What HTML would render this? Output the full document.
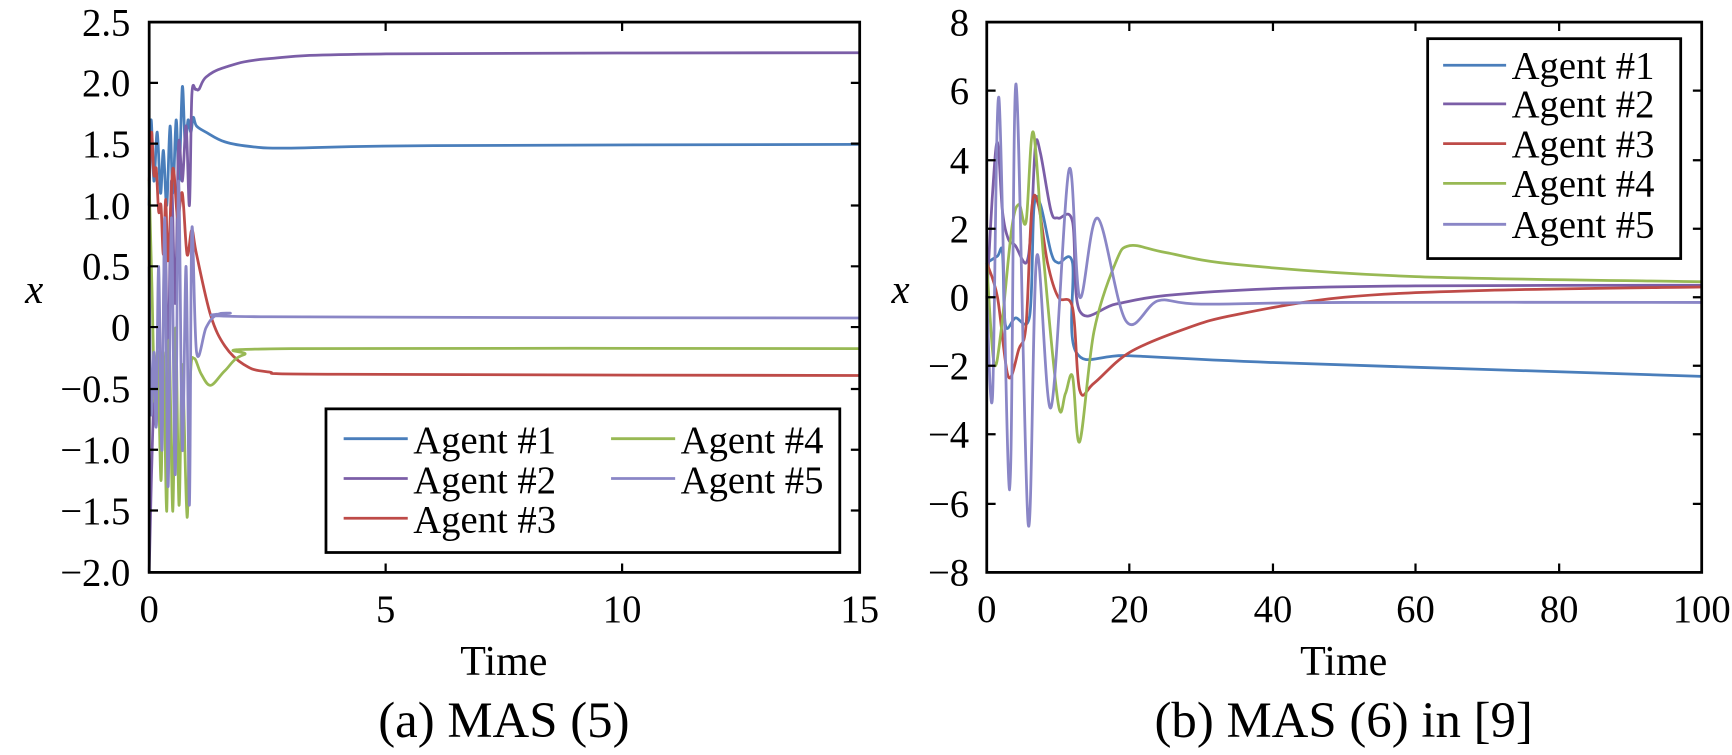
<!DOCTYPE html>
<html><head><meta charset="utf-8"><style>
html,body{margin:0;padding:0;background:#fff;}
svg{display:block;font-family:"Liberation Serif",serif;}
</style></head><body>
<svg id="s" width="1732" height="755" viewBox="0 0 1732 755" xmlns="http://www.w3.org/2000/svg">
<g transform="scale(1.105)">
<g id="curves"></g>
<!-- left axes -->
<rect x="135" y="20" width="643" height="498" fill="none" stroke="#000" stroke-width="2.5"/>
<g stroke="#000" stroke-width="2">
<path d="M349,20v8M563,20v8M349,518v-8M563,518v-8"/>
<path d="M135,75h8M135,130h8M135,186h8M135,241h8M135,296h8M135,352h8M135,407h8M135,462h8"/>
<path d="M778,75h-8M778,130h-8M778,186h-8M778,241h-8M778,296h-8M778,352h-8M778,407h-8M778,462h-8"/>
</g>
<g font-size="35" text-anchor="end">
<text x="118" y="32">2.5</text><text x="118" y="87">2.0</text><text x="118" y="142">1.5</text><text x="118" y="198">1.0</text><text x="118" y="253">0.5</text><text x="118" y="308">0</text><text x="118" y="364">−0.5</text><text x="118" y="419">−1.0</text><text x="118" y="474">−1.5</text><text x="118" y="530">−2.0</text>
</g>
<g font-size="35" text-anchor="middle">
<text x="135" y="563">0</text><text x="349" y="563">5</text><text x="563" y="563">10</text><text x="778" y="563">15</text>
<text x="456" y="611" font-size="38">Time</text>
<text x="456" y="667" font-size="46">(a) MAS (5)</text>
</g>
<text x="31" y="274" font-size="37" font-style="italic" text-anchor="middle">x</text>
<!-- right axes -->
<rect x="893" y="20" width="647" height="498" fill="none" stroke="#000" stroke-width="2.5"/>
<g stroke="#000" stroke-width="2">
<path d="M1022,20v8M1152,20v8M1281,20v8M1411,20v8M1022,518v-8M1152,518v-8M1281,518v-8M1411,518v-8"/>
<path d="M893,82h8M893,145h8M893,207h8M893,269h8M893,331h8M893,393h8M893,456h8"/>
<path d="M1540,82h-8M1540,145h-8M1540,207h-8M1540,269h-8M1540,331h-8M1540,393h-8M1540,456h-8"/>
</g>
<g font-size="35" text-anchor="end">
<text x="877" y="32">8</text><text x="877" y="94">6</text><text x="877" y="157">4</text><text x="877" y="219">2</text><text x="877" y="281">0</text><text x="877" y="343">−2</text><text x="877" y="405">−4</text><text x="877" y="468">−6</text><text x="877" y="530">−8</text>
</g>
<g font-size="35" text-anchor="middle">
<text x="893" y="563">0</text><text x="1022" y="563">20</text><text x="1152" y="563">40</text><text x="1281" y="563">60</text><text x="1411" y="563">80</text><text x="1540" y="563">100</text>
<text x="1216" y="611" font-size="38">Time</text>
<text x="1216" y="667" font-size="46">(b) MAS (6) in [9]</text>
</g>
<text x="815" y="274" font-size="37" font-style="italic" text-anchor="middle">x</text>
<!-- left legend -->
<rect x="295" y="370" width="465" height="130" fill="#fff" stroke="#000" stroke-width="2.5"/>
<g stroke-width="2.5">
<path d="M311,397h58" stroke="#4a7ebb"/><path d="M311,433h58" stroke="#7b5ea7"/><path d="M311,469h58" stroke="#be4b48"/>
<path d="M553,397h58" stroke="#98b954"/><path d="M553,433h58" stroke="#8a86c6"/>
</g>
<g font-size="35">
<text x="374" y="410">Agent #1</text><text x="374" y="446">Agent #2</text><text x="374" y="482">Agent #3</text>
<text x="616" y="410">Agent #4</text><text x="616" y="446">Agent #5</text>
</g>
<!-- right legend -->
<rect x="1292" y="35" width="229" height="199" fill="#fff" stroke="#000" stroke-width="2.5"/>
<g stroke-width="2.5">
<path d="M1306,59h57" stroke="#4a7ebb"/><path d="M1306,94h57" stroke="#7b5ea7"/><path d="M1306,130h57" stroke="#be4b48"/><path d="M1306,166h57" stroke="#98b954"/><path d="M1306,203h57" stroke="#8a86c6"/>
</g>
<g font-size="35">
<text x="1368" y="71">Agent #1</text><text x="1368" y="106">Agent #2</text><text x="1368" y="142">Agent #3</text><text x="1368" y="178">Agent #4</text><text x="1368" y="215">Agent #5</text>
</g>
</g>
</svg>
<script>
var C={b:"#4a7ebb",p:"#7b5ea7",r:"#be4b48",g:"#98b954",l:"#8a86c6"};
function path(pts,fx,fy){var P=pts.map(function(a){return [fx(a[0]),fy(a[1])];});
var d="M"+P[0][0].toFixed(1)+","+P[0][1].toFixed(1);
for(var i=0;i<P.length-1;i++){var p0=P[i-1]||P[i],p1=P[i],p2=P[i+1],p3=P[i+2]||p2;
var c1=[p1[0]+(p2[0]-p0[0])/6,p1[1]+(p2[1]-p0[1])/6],c2=[p2[0]-(p3[0]-p1[0])/6,p2[1]-(p3[1]-p1[1])/6];
d+="C"+c1[0].toFixed(1)+","+c1[1].toFixed(1)+" "+c2[0].toFixed(1)+","+c2[1].toFixed(1)+" "+p2[0].toFixed(1)+","+p2[1].toFixed(1);}
return d;}
var g=document.getElementById("curves"),h="";
function add(pts,col,fx,fy){h+='<path d="'+path(pts,fx,fy)+'" fill="none" stroke="'+col+'" stroke-width="2.5"/>';}
var lx=function(t){return 135+t*42.87},ly=function(v){return 518-(v+2)*110.67};
add([[0,1.0],[0.04,1.7],[0.1,1.2],[0.17,1.6],[0.24,1.1],[0.3,1.45],[0.37,1.0],[0.44,1.65],[0.5,1.1],[0.57,1.7],[0.63,1.2],[0.7,1.97],[0.76,1.5],[0.82,1.7],[0.88,1.6],[0.93,1.72],[1.0,1.65],[1.2,1.6],[1.6,1.52],[2.2,1.48],[3,1.47],[6,1.49],[15,1.5]],C.b,lx,ly);
add([[0,-2],[0.05,-1.2],[0.1,-0.6],[0.15,-0.8],[0.2,-0.2],[0.27,-0.7],[0.33,0.8],[0.4,-0.3],[0.47,1.2],[0.55,0.2],[0.62,1.5],[0.7,1.2],[0.78,1.65],[0.85,1.0],[0.9,1.9],[0.98,1.95],[1.05,1.95],[1.2,2.05],[1.6,2.13],[2.5,2.2],[5,2.24],[15,2.25]],C.p,lx,ly);
add([[0,1.2],[0.05,1.6],[0.1,1.25],[0.15,1.3],[0.2,0.95],[0.25,1.0],[0.3,0.6],[0.35,1.05],[0.4,0.55],[0.5,1.3],[0.6,0.9],[0.7,1.1],[0.8,0.6],[0.9,0.8],[1.0,0.6],[1.3,0.1],[1.6,-0.15],[2.0,-0.3],[2.5,-0.36],[4,-0.38],[15,-0.39]],C.r,lx,ly);
add([[0,1.2],[0.06,0.3],[0.12,-0.6],[0.18,-0.2],[0.25,-1.25],[0.3,-0.2],[0.37,-1.5],[0.42,-0.1],[0.5,-1.5],[0.56,0],[0.63,-1.45],[0.7,-0.3],[0.8,-1.55],[0.87,-0.4],[0.95,-0.25],[1.1,-0.38],[1.3,-0.47],[1.6,-0.35],[2.0,-0.22],[3,-0.17],[15,-0.17]],C.g,lx,ly);
add([[0,0.5],[0.04,-0.7],[0.1,-0.2],[0.15,-0.8],[0.2,0.5],[0.27,-1.0],[0.33,0.9],[0.4,-1.3],[0.47,0.9],[0.55,-1.2],[0.62,1.2],[0.7,-1.0],[0.78,0.5],[0.85,-1.45],[0.9,0.8],[1.0,-0.2],[1.2,0.0],[1.4,0.1],[1.7,0.12],[2.5,0.09],[15,0.08]],C.l,lx,ly);
var rx=function(t){return 893+t*6.47},ry=function(v){return 269-v*31.125};
add([[0,1],[1.5,1.2],[2.2,1.3],[2.6,-0.8],[4,-0.6],[6,-0.55],[6.6,2.6],[7.5,2.7],[9,1.3],[10,1.0],[12,1.0],[12.5,-1.6],[20,-1.7],[40,-1.9],[70,-2.1],[100,-2.3]],C.b,rx,ry);
add([[0,0],[0.8,3],[1.5,4.5],[2.2,2.5],[3,1.7],[4,1.5],[5.5,1.0],[6.2,2],[6.8,4.4],[7.5,4.2],[9,2.5],[10,2.3],[12,2.2],[13,-0.4],[18,-0.2],[25,0.05],[40,0.25],[60,0.33],[100,0.35]],C.p,rx,ry);
add([[0,1],[1.5,0],[3,-2.3],[4.5,-1.5],[5.5,-0.8],[6.3,2.6],[7.2,2.7],[8.5,1],[10,0],[12,-0.3],[13,-2.7],[15,-2.5],[20,-1.6],[28,-0.9],[35,-0.5],[50,0],[70,0.2],[100,0.3]],C.r,rx,ry);
add([[0,1],[1,-1.9],[2,-1],[3.5,2],[4.5,2.7],[5.5,2.2],[6.5,4.8],[8,1],[10,-3.1],[11,-2.8],[12,-2.3],[13,-4.2],[15,-1],[18,1],[20,1.5],[25,1.3],[35,0.95],[60,0.6],[100,0.45]],C.g,rx,ry);
add([[0,0],[0.8,-2.9],[1.7,5.8],[3.2,-5.6],[4.1,6.2],[5.8,-6.6],[7,1.2],[9,-3.2],[11.5,3.7],[13,0],[15.5,2.3],[19.5,-0.7],[24,-0.1],[30,-0.2],[50,-0.15],[100,-0.15]],C.l,rx,ry);
g.innerHTML=h;
</script>
</body></html>
